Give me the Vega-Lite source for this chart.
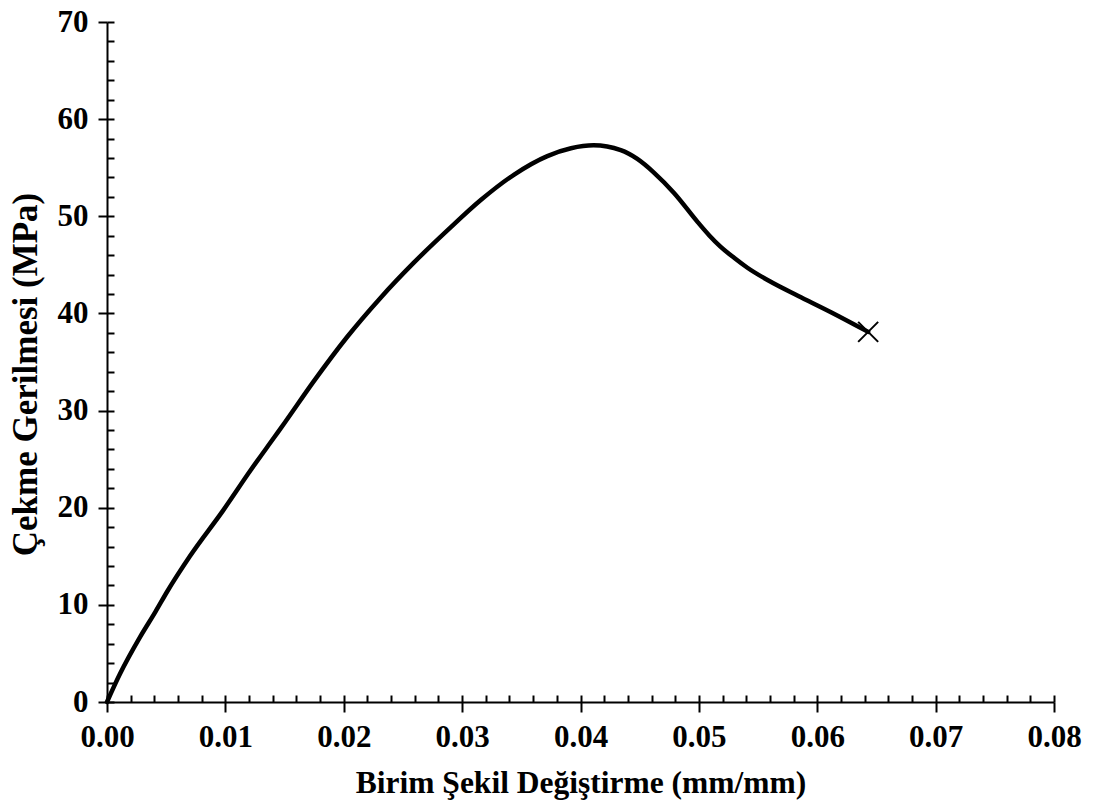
{
  "$schema": "https://vega.github.io/schema/vega-lite/v6.json",
  "width": 947,
  "height": 680,
  "autosize": "none",
  "padding": {"left": 107, "top": 22, "right": 40, "bottom": 101},
  "background": "white",
  "config": {
    "view": {"stroke": null},
    "axis": {
      "domainColor": "black",
      "domainWidth": 2,
      "tickColor": "black",
      "tickWidth": 2,
      "labelColor": "black",
      "titleColor": "black",
      "labelFont": "Liberation Serif",
      "titleFont": "Liberation Serif",
      "labelFontWeight": "bold",
      "titleFontWeight": "bold",
      "labelFontSize": 31,
      "titleFontSize": 31,
      "grid": false,
      "labelFlush": false,
      "labelOverlap": false
    }
  },
  "data": {
    "values": [
      {"strain": 0, "stress": 0},
      {"strain": 0.0011, "stress": 2.9},
      {"strain": 0.0028, "stress": 6.7},
      {"strain": 0.0041, "stress": 9.3},
      {"strain": 0.0051, "stress": 11.4},
      {"strain": 0.007, "stress": 15.0},
      {"strain": 0.0098, "stress": 19.7},
      {"strain": 0.0121, "stress": 23.8},
      {"strain": 0.0141, "stress": 27.2},
      {"strain": 0.0151, "stress": 28.9},
      {"strain": 0.0174, "stress": 32.9},
      {"strain": 0.0203, "stress": 37.6},
      {"strain": 0.0231, "stress": 41.6},
      {"strain": 0.0259, "stress": 45.2},
      {"strain": 0.0288, "stress": 48.6},
      {"strain": 0.0316, "stress": 51.7},
      {"strain": 0.0344, "stress": 54.3},
      {"strain": 0.0372, "stress": 56.2},
      {"strain": 0.0392, "stress": 57.0},
      {"strain": 0.0411, "stress": 57.3},
      {"strain": 0.0434, "stress": 56.8},
      {"strain": 0.0448, "stress": 55.9},
      {"strain": 0.0462, "stress": 54.5},
      {"strain": 0.0479, "stress": 52.4},
      {"strain": 0.0499, "stress": 49.4},
      {"strain": 0.0509, "stress": 48.0},
      {"strain": 0.0518, "stress": 46.9},
      {"strain": 0.053, "stress": 45.7},
      {"strain": 0.0541, "stress": 44.7},
      {"strain": 0.0563, "stress": 43.1},
      {"strain": 0.0584, "stress": 41.8},
      {"strain": 0.0612, "stress": 40.1},
      {"strain": 0.0643, "stress": 38.1}
    ]
  },
  "resolve": {"axis": {"x": "independent", "y": "independent"}},
  "layer": [
    {
      "mark": {"type": "line", "color": "black", "strokeWidth": 4.5, "interpolate": "monotone", "strokeCap": "round", "strokeJoin": "round"},
      "encoding": {
        "x": {
          "field": "strain", "type": "quantitative",
          "scale": {"domain": [0, 0.08], "nice": false, "zero": true},
          "axis": {
            "orient": "bottom",
            "values": [0, 0.01, 0.02, 0.03, 0.04, 0.05, 0.06, 0.07, 0.08],
            "format": ".2f",
            "tickSize": 10,
            "labelPadding": 10,
            "title": "Birim Şekil Değiştirme (mm/mm)",
            "titleFontSize": 31.5,
            "titlePadding": 15
          }
        },
        "y": {
          "field": "stress", "type": "quantitative",
          "scale": {"domain": [0, 70], "nice": false, "zero": true},
          "axis": {
            "orient": "left",
            "values": [0, 10, 20, 30, 40, 50, 60, 70],
            "tickSize": 9,
            "labelPadding": 10,
            "title": "Çekme Gerilmesi (MPa)",
            "titleFontSize": 35,
            "titlePadding": 14,
            "titleY": 352
          }
        }
      }
    },
    {
      "transform": [{"filter": "datum.strain >= 0.064"}],
      "mark": {"type": "point", "shape": "M-1,-1L1,1M1,-1L-1,1", "size": 400, "stroke": "black", "strokeWidth": 2, "filled": false, "opacity": 1},
      "encoding": {
        "x": {
          "field": "strain", "type": "quantitative",
          "scale": {"domain": [0, 0.08], "nice": false, "zero": true},
          "axis": {
            "orient": "bottom",
            "values": [0, 0.002, 0.004, 0.006, 0.008, 0.01, 0.012, 0.014, 0.016, 0.018, 0.02, 0.022, 0.024, 0.026, 0.028, 0.03, 0.032, 0.034, 0.036, 0.038, 0.04, 0.042, 0.044, 0.046, 0.048, 0.05, 0.052, 0.054, 0.056, 0.058, 0.06, 0.062, 0.064, 0.066, 0.068, 0.07, 0.072, 0.074, 0.076, 0.078, 0.08],
            "tickSize": -7,
            "labels": false,
            "domain": false,
            "title": null
          }
        },
        "y": {
          "field": "stress", "type": "quantitative",
          "scale": {"domain": [0, 70], "nice": false, "zero": true},
          "axis": {
            "orient": "left",
            "values": [0, 2, 4, 6, 8, 10, 12, 14, 16, 18, 20, 22, 24, 26, 28, 30, 32, 34, 36, 38, 40, 42, 44, 46, 48, 50, 52, 54, 56, 58, 60, 62, 64, 66, 68, 70],
            "tickSize": -7,
            "labels": false,
            "domain": false,
            "title": null
          }
        }
      }
    }
  ]
}
